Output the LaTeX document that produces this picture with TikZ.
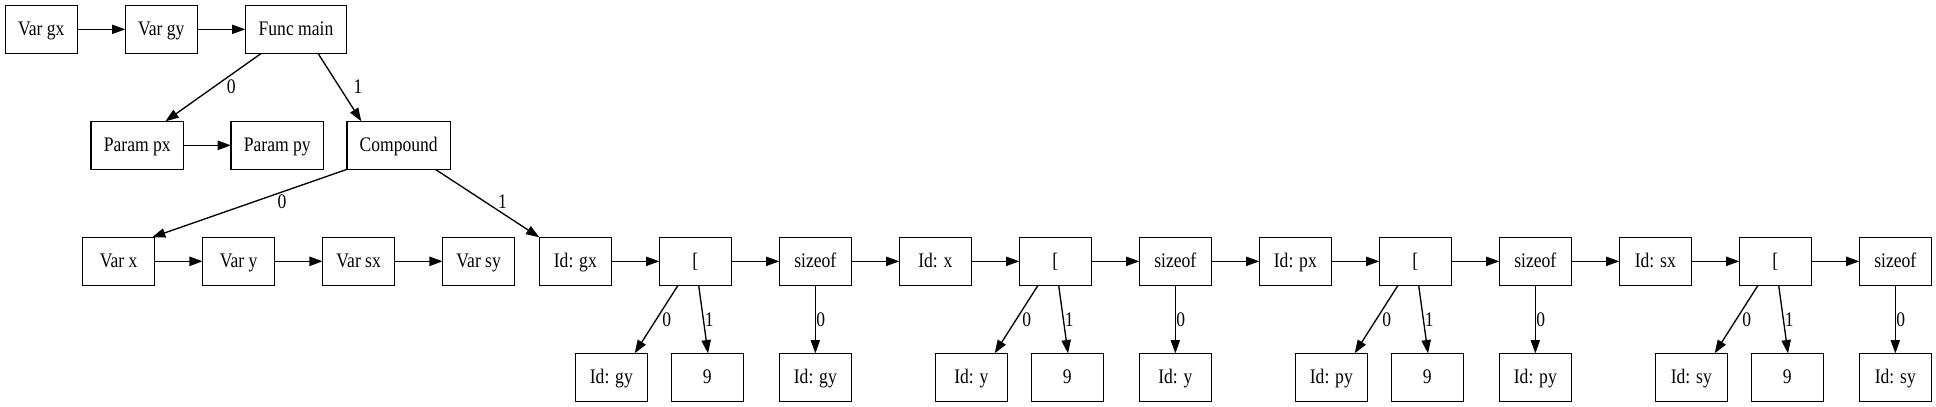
\documentclass[tikz,border=0pt]{standalone}
\usepackage{fontspec}
\setmainfont{Liberation Serif}[FakeStretch=0.85]
\usetikzlibrary{arrows.meta}
\begin{document}
\begin{tikzpicture}[x=1pt,y=-1pt,
  box/.style={draw, line width=1pt, minimum width=54pt, minimum height=36pt,
    inner xsep=2pt, inner ysep=0pt, text height=12pt, text depth=3pt,
    font=\fontsize{15.5}{17}\selectfont, outer sep=0pt},
  edge/.style={line width=1pt, -{Triangle[length=10pt,width=7pt]}},
  lbl/.style={font=\fontsize{15.5}{17}\selectfont, inner sep=0pt}]
\useasboundingbox (0,0) rectangle (1452,305.25);
% row 1
\node[box] (vgx) at (31,22) {Var gx};
\node[box] (vgy) at (121,22) {Var gy};
\node[box, minimum width=76pt] (fmain) at (222,22) {Func main};
% row 2
\node[box, minimum width=69.5pt] (ppx) at (103,109) {Param px};
\node[box, minimum width=69.5pt] (ppy) at (208,109) {Param py};
\node[box, minimum width=77.5pt] (comp) at (299,109) {Compound};
% row 3
\node[box] (vx) at (89,196) {Var x};
\node[box] (vy) at (179,196) {Var y};
\node[box] (vsx) at (269,196) {Var sx};
\node[box] (vsy) at (359,196) {Var sy};
\node[box] (idgx) at (431.5,196) {Id: gx};
\node[box] (b1) at (521.5,196) {[};
\node[box] (s1) at (611.5,196) {sizeof};
\node[box] (idx) at (701.5,196) {Id: x};
\node[box] (b2) at (791.5,196) {[};
\node[box] (s2) at (881.5,196) {sizeof};
\node[box] (idpx) at (971.5,196) {Id: px};
\node[box] (b3) at (1061.5,196) {[};
\node[box] (s3) at (1151.5,196) {sizeof};
\node[box] (idsx) at (1241.5,196) {Id: sx};
\node[box] (b4) at (1331.5,196) {[};
\node[box] (s4) at (1421.5,196) {sizeof};
% row 4
\node[box] (a1) at (458.5,283) {Id: gy};
\node[box] (n1) at (530.5,283) {9};
\node[box] (z1) at (611.5,283) {Id: gy};
\node[box] (a2) at (728.5,283) {Id: y};
\node[box] (n2) at (800.5,283) {9};
\node[box] (z2) at (881.5,283) {Id: y};
\node[box] (a3) at (998.5,283) {Id: py};
\node[box] (n3) at (1070.5,283) {9};
\node[box] (z3) at (1151.5,283) {Id: py};
\node[box] (a4) at (1268.5,283) {Id: sy};
\node[box] (n4) at (1340.5,283) {9};
\node[box] (z4) at (1421.5,283) {Id: sy};
% horizontal edges
\draw[edge] (vgx) -- (vgy);
\draw[edge] (vgy) -- (fmain);
\draw[edge] (ppx) -- (ppy);
\draw[edge] (vx) -- (vy);
\draw[edge] (vy) -- (vsx);
\draw[edge] (vsx) -- (vsy);
\draw[edge] (idgx) -- (b1);
\draw[edge] (b1) -- (s1);
\draw[edge] (s1) -- (idx);
\draw[edge] (idx) -- (b2);
\draw[edge] (b2) -- (s2);
\draw[edge] (s2) -- (idpx);
\draw[edge] (idpx) -- (b3);
\draw[edge] (b3) -- (s3);
\draw[edge] (s3) -- (idsx);
\draw[edge] (idsx) -- (b4);
\draw[edge] (b4) -- (s4);
% tree edges
\draw[edge] ([xshift=-26pt]fmain.south) -- ([xshift=21pt]ppx.north);
\draw[edge] ([xshift=16.5pt]fmain.south) -- ([xshift=-28pt]comp.north);
\draw[edge] (comp.south west) -- ([xshift=-2pt]vx.north east);
\draw[edge] ([xshift=27.5pt]comp.south) -- (idgx.north west);
\foreach \i in {1,2,3,4}{
  \draw[edge] ([xshift=-13pt]b\i.south) -- ([xshift=17.5pt]a\i.north);
  \draw[edge] ([xshift=2.5pt]b\i.south) -- ([xshift=0.5pt]n\i.north);
  \draw[edge] (s\i.south) -- (z\i.north);
}
% labels
\node[lbl] (lf0) at (173.5,65) {0};
\node[lbl] (lf1) at (268.5,65) {1};
\node[lbl] (lc0) at (211.6,151) {0};
\node[lbl] (lc1) at (376.8,151) {1};
\foreach \c/\i in {521.5/1,791.5/2,1061.5/3,1331.5/4}{
  \node[lbl] (lb\i a) at (\c-21.5,239.5) {0};
  \node[lbl] (lb\i b) at (\c+10.5,239.5) {1};
  \node[lbl] (ls\i) at (\c+94,239.5) {0};
}
\end{tikzpicture}
\end{document}
